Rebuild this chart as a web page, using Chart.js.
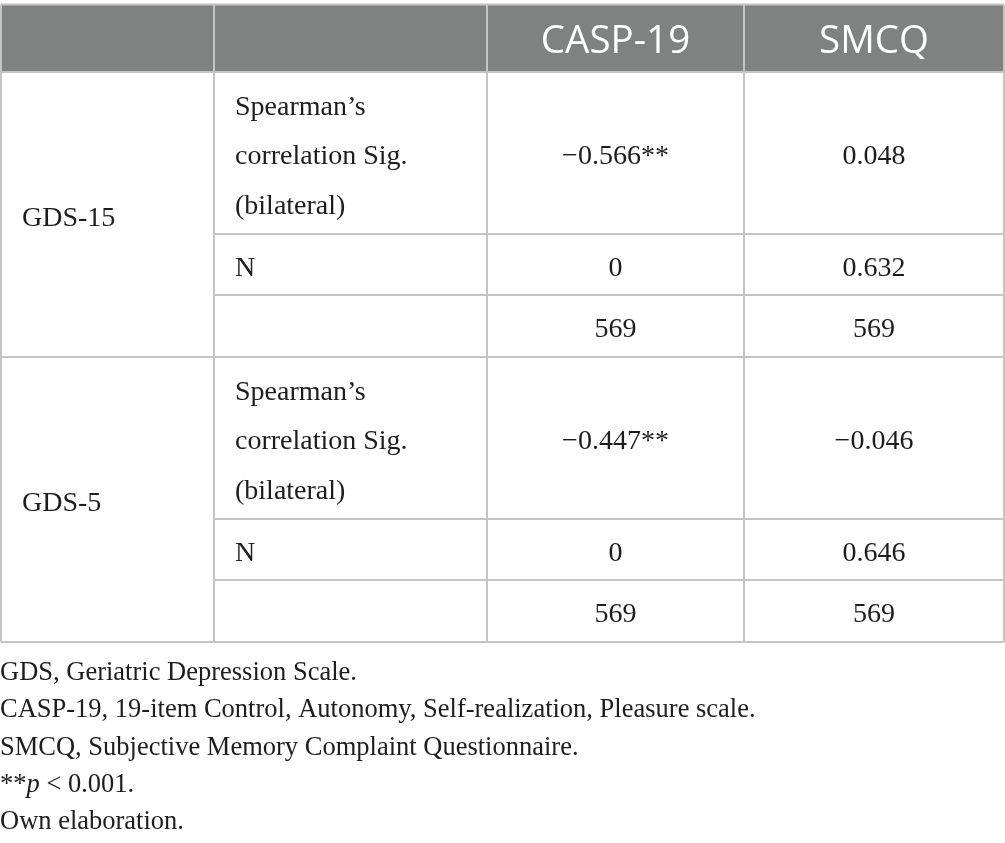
<!DOCTYPE html>
<html>
<head>
<meta charset="utf-8">
<script src="https://cdn.jsdelivr.net/npm/chart.js@4.4.1/dist/chart.umd.min.js"></script>
<style>
  html, body { margin: 0; padding: 0; background: #ffffff; }
  #wrap { width: 1005px; height: 843px; position: relative; }
</style>
</head>
<body>
<div id="wrap"><canvas id="c"></canvas></div>
<script>
// ---- data ----
const columnHeaders = ['', '', 'CASP-19', 'SMCQ'];
const groups = ['GDS-15', 'GDS-5'];
const statLabels = ['Spearman\u2019s correlation Sig. (bilateral)', 'N', ''];
const casp19Values = [-0.566, 0, 569, -0.447, 0, 569];
const casp19Sig = ['**', '', '', '**', '', ''];
const smcqValues = [0.048, 0.632, 569, -0.046, 0.646, 569];
const smcqSig = ['', '', '', '', '', ''];
const notes = [
  'GDS, Geriatric Depression Scale.',
  'CASP-19, 19-item Control, Autonomy, Self-realization, Pleasure scale.',
  'SMCQ, Subjective Memory Complaint Questionnaire.',
  '**p < 0.001.',
  'Own elaboration.'
];

// ---- layout (styles / sizes) ----
const colWidths = [213, 273, 257, 260];
const tableLeft = 1, tableTop = 4.5;
const headerHeight = 67.5;
const subRowHeights = [162, 61, 62];
const noteFirstOffset = 38, noteSpacing = 37.3;
const gridColor = '#c4c4c4';
const headerBg = '#808281';
const textColor = '#1e1c1d';
const serif = '"Liberation Serif", "Times New Roman", serif';
const sans = '"Open Sans", "Noto Sans", sans-serif';
const bodySize = 28, headerSize = 38.5, noteSize = 26.5;

function fmt(v) { return String(v).replace('-', '\u2212'); }

const colEdges = [tableLeft];
colWidths.forEach(w => colEdges.push(colEdges[colEdges.length - 1] + w));
const rowEdges = [tableTop, tableTop + headerHeight];
groups.forEach(() => subRowHeights.forEach(h => rowEdges.push(rowEdges[rowEdges.length - 1] + h)));
const tableBottom = rowEdges[rowEdges.length - 1];

// cell anchors as data points (value columns)
const cellPoints = [];
for (let r = 0; r < casp19Values.length; r++) {
  const y = (rowEdges[r + 1] + rowEdges[r + 2]) / 2;
  cellPoints.push({ x: (colEdges[2] + colEdges[3]) / 2, y: y, t: fmt(casp19Values[r]) + casp19Sig[r] });
  cellPoints.push({ x: (colEdges[3] + colEdges[4]) / 2, y: y, t: fmt(smcqValues[r]) + smcqSig[r] });
}

function wrapText(ctx, text, maxW) {
  const words = text.split(' ');
  const lines = [];
  let cur = '';
  words.forEach(w => {
    const test = cur ? cur + ' ' + w : w;
    if (ctx.measureText(test).width > maxW && cur) { lines.push(cur); cur = w; }
    else cur = test;
  });
  if (cur) lines.push(cur);
  return lines;
}

const tablePlugin = {
  id: 'tablePlugin',
  afterDraw(chart) {
    const ctx = chart.ctx;
    const xs = chart.scales.x, ys = chart.scales.y;
    const X = v => xs.getPixelForValue(v);
    const Y = v => ys.getPixelForValue(v);
    ctx.save();
    // header background
    ctx.fillStyle = headerBg;
    ctx.fillRect(X(colEdges[0]), Y(rowEdges[0]), X(colEdges[4]) - X(colEdges[0]), Y(rowEdges[1]) - Y(rowEdges[0]));

    // grid lines
    ctx.strokeStyle = gridColor;
    ctx.lineWidth = 2;
    const line = (x1, y1, x2, y2) => { ctx.beginPath(); ctx.moveTo(X(x1), Y(y1)); ctx.lineTo(X(x2), Y(y2)); ctx.stroke(); };
    colEdges.forEach(x => line(x, rowEdges[0], x, tableBottom));
    line(colEdges[0], rowEdges[0], colEdges[4], rowEdges[0]);
    line(colEdges[0], rowEdges[1], colEdges[4], rowEdges[1]);
    groups.forEach((g, gi) => {
      const base = 1 + gi * subRowHeights.length;
      for (let k = 1; k < subRowHeights.length; k++) line(colEdges[1], rowEdges[base + k], colEdges[4], rowEdges[base + k]);
      line(colEdges[0], rowEdges[base + subRowHeights.length], colEdges[4], rowEdges[base + subRowHeights.length]);
    });

    // header text
    ctx.fillStyle = '#ffffff';
    ctx.font = headerSize + 'px ' + sans;
    ctx.textAlign = 'center';
    ctx.textBaseline = 'alphabetic';
    const hc = (rowEdges[0] + rowEdges[1]) / 2;
    columnHeaders.forEach((h, i) => {
      if (!h) return;
      ctx.fillText(h, X((colEdges[i] + colEdges[i + 1]) / 2), Y(hc) + headerSize * 0.38);
    });

    // body text
    ctx.fillStyle = textColor;
    ctx.font = bodySize + 'px ' + serif;
    const pad = 21;
    groups.forEach((g, gi) => {
      const base = 1 + gi * subRowHeights.length;
      const top = rowEdges[base], bot = rowEdges[base + subRowHeights.length];
      ctx.textAlign = 'left';
      ctx.fillText(g, X(colEdges[0]) + pad, Y((top + bot) / 2) + bodySize * 0.41);
      statLabels.forEach((s, k) => {
        if (!s) return;
        const lines = wrapText(ctx, s, X(colEdges[2]) - X(colEdges[1]) - 2 * pad);
        const cy = Y((rowEdges[base + k] + rowEdges[base + k + 1]) / 2);
        const lh = 49.5;
        lines.forEach((ln, li) => {
          ctx.fillText(ln, X(colEdges[1]) + pad, cy + (li - (lines.length - 1) / 2) * lh + bodySize * 0.41);
        });
      });
    });
    ctx.textAlign = 'center';
    const meta = chart.getDatasetMeta(0);
    meta.data.forEach((el, i) => {
      ctx.fillText(cellPoints[i].t, el.x, el.y + bodySize * 0.41);
    });

    // notes
    ctx.textAlign = 'left';
    ctx.fillStyle = textColor;
    notes.forEach((n, i) => {
      const y = Y(tableBottom + noteFirstOffset + i * noteSpacing);
      let x = X(0);
      const m = n.match(/^(\*\*)(p)(.*)$/);
      if (m) {
        ctx.font = noteSize + 'px ' + serif;
        ctx.fillText(m[1], x, y); x += ctx.measureText(m[1]).width;
        ctx.font = 'italic ' + noteSize + 'px ' + serif;
        ctx.fillText(m[2], x, y); x += ctx.measureText(m[2]).width;
        ctx.font = noteSize + 'px ' + serif;
        ctx.fillText(m[3], x, y);
      } else {
        ctx.font = noteSize + 'px ' + serif;
        ctx.fillText(n, x, y);
      }
    });
    ctx.restore();
  }
};

new Chart(document.getElementById('c'), {
  type: 'scatter',
  data: { datasets: [{ data: cellPoints, pointRadius: 0, pointHoverRadius: 0 }] },
  options: {
    responsive: true,
    maintainAspectRatio: false,
    animation: false,
    events: [],
    layout: { padding: 0 },
    plugins: { legend: { display: false }, tooltip: { enabled: false } },
    scales: {
      x: { type: 'linear', min: 0, max: 1005, display: false },
      y: { type: 'linear', min: 0, max: 843, reverse: true, display: false }
    }
  },
  plugins: [tablePlugin]
});
</script>
</body>
</html>
